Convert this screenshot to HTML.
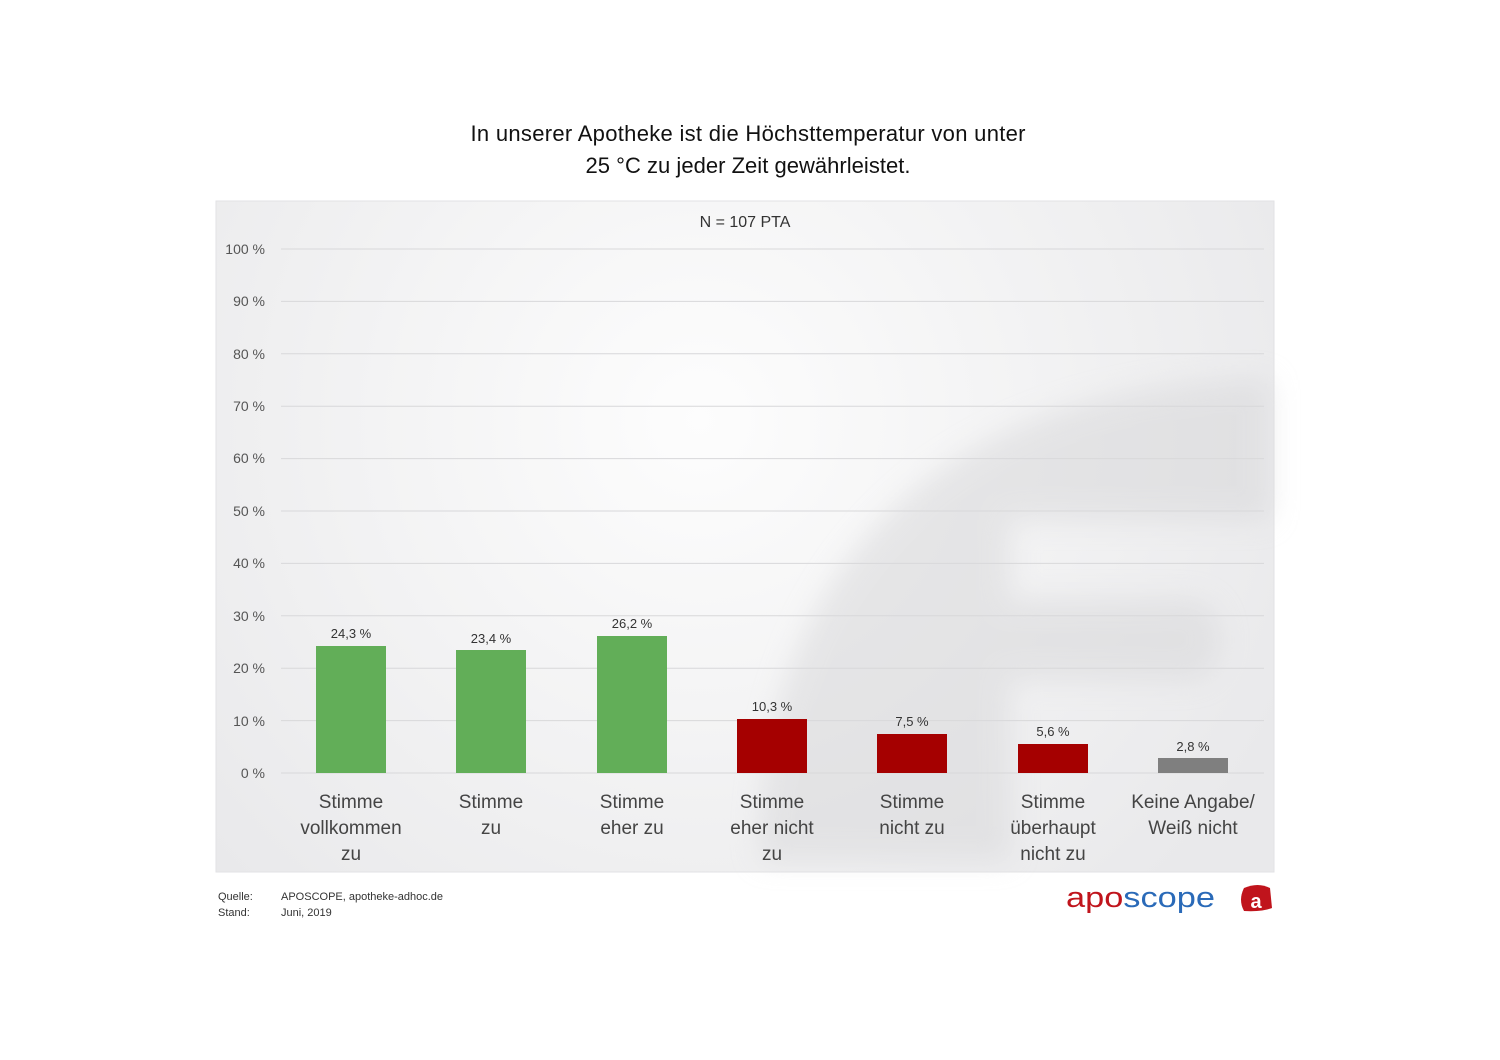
<!DOCTYPE html>
<html><head><meta charset="utf-8"><style>
body{margin:0;background:#fff;}
svg{display:block;font-family:"Liberation Sans",sans-serif;}
</style></head><body>
<svg width="1500" height="1060" viewBox="0 0 1500 1060" xmlns="http://www.w3.org/2000/svg">
<defs>
<radialGradient id="bg" cx="700" cy="420" r="650" gradientUnits="userSpaceOnUse">
<stop offset="0" stop-color="#fdfdfd"/><stop offset="0.6" stop-color="#f1f1f2"/><stop offset="1" stop-color="#e9e9eb"/>
</radialGradient>
<filter id="bl"><feGaussianBlur stdDeviation="14"/></filter>
</defs>
<text x="748" y="141" font-size="22" text-anchor="middle" fill="#111" textLength="555">In unserer Apotheke ist die Höchsttemperatur von unter</text>
<text x="748" y="173" font-size="22" text-anchor="middle" fill="#111" textLength="325">25 °C zu jeder Zeit gewährleistet.</text>
<rect x="216" y="201" width="1058" height="671" fill="url(#bg)" stroke="#e2e2e4"/>
<g filter="url(#bl)" fill="#d6d6d8" opacity="0.5">
<path d="M760 860 C760 560 950 380 1270 380 L1270 520 L1010 520 L1010 600 L1190 600 C1230 600 1230 680 1190 680 L1010 680 L1010 860 Z"/>
</g>
<text x="745" y="227" font-size="16" text-anchor="middle" fill="#333">N = 107 PTA</text>
<g stroke="#d8d8da" stroke-width="1">
<line x1="281" x2="1264" y1="249" y2="249"/><line x1="281" x2="1264" y1="301.4" y2="301.4"/>
<line x1="281" x2="1264" y1="353.8" y2="353.8"/><line x1="281" x2="1264" y1="406.2" y2="406.2"/>
<line x1="281" x2="1264" y1="458.6" y2="458.6"/><line x1="281" x2="1264" y1="511" y2="511"/>
<line x1="281" x2="1264" y1="563.4" y2="563.4"/><line x1="281" x2="1264" y1="615.8" y2="615.8"/>
<line x1="281" x2="1264" y1="668.2" y2="668.2"/><line x1="281" x2="1264" y1="720.6" y2="720.6"/>
<line x1="281" x2="1264" y1="773" y2="773"/>
</g>
<g font-size="14" fill="#555" text-anchor="end">
<text x="265" y="254">100 %</text><text x="265" y="306">90 %</text><text x="265" y="359">80 %</text>
<text x="265" y="411">70 %</text><text x="265" y="463">60 %</text><text x="265" y="516">50 %</text>
<text x="265" y="568">40 %</text><text x="265" y="621">30 %</text><text x="265" y="673">20 %</text>
<text x="265" y="726">10 %</text><text x="265" y="778">0 %</text>
</g>
<rect x="316" y="646" width="70" height="127" fill="#62ae58"/>
<rect x="456" y="650" width="70" height="123" fill="#62ae58"/>
<rect x="597" y="636" width="70" height="137" fill="#62ae58"/>
<rect x="737" y="719" width="70" height="54" fill="#a50000"/>
<rect x="877" y="734" width="70" height="39" fill="#a50000"/>
<rect x="1018" y="744" width="70" height="29" fill="#a50000"/>
<rect x="1158" y="758" width="70" height="15" fill="#7f7f7f"/>
<g font-size="13" fill="#333" text-anchor="middle">
<text x="351" y="638">24,3 %</text><text x="491" y="643">23,4 %</text><text x="632" y="628">26,2 %</text>
<text x="772" y="711">10,3 %</text><text x="912" y="726">7,5 %</text><text x="1053" y="736">5,6 %</text>
<text x="1193" y="751">2,8 %</text>
</g>
<g font-size="19" fill="#444" text-anchor="middle">
<text x="351" y="808">Stimme</text><text x="351" y="834">vollkommen</text><text x="351" y="860">zu</text>
<text x="491" y="808">Stimme</text><text x="491" y="834">zu</text>
<text x="632" y="808">Stimme</text><text x="632" y="834">eher zu</text>
<text x="772" y="808">Stimme</text><text x="772" y="834">eher nicht</text><text x="772" y="860">zu</text>
<text x="912" y="808">Stimme</text><text x="912" y="834">nicht zu</text>
<text x="1053" y="808">Stimme</text><text x="1053" y="834">überhaupt</text><text x="1053" y="860">nicht zu</text>
<text x="1193" y="808">Keine Angabe/</text><text x="1193" y="834">Weiß nicht</text>
</g>
<g font-size="11" fill="#333">
<text x="218" y="900">Quelle:</text><text x="281" y="900">APOSCOPE, apotheke-adhoc.de</text>
<text x="218" y="916">Stand:</text><text x="281" y="916">Juni, 2019</text>
</g>
<text x="1066" y="907" font-size="29" textLength="149" lengthAdjust="spacingAndGlyphs"><tspan fill="#c0141c">apo</tspan><tspan fill="#2a6ab8">scope</tspan></text>
<path d="M1244 888 Q1258 882 1270 888 L1272 908 Q1262 912 1244 911 Q1238 900 1244 888 Z" fill="#c0141c"/>
<text x="1256" y="908" font-size="20" font-weight="bold" fill="#fff" text-anchor="middle">a</text>
</svg>
</body></html>
